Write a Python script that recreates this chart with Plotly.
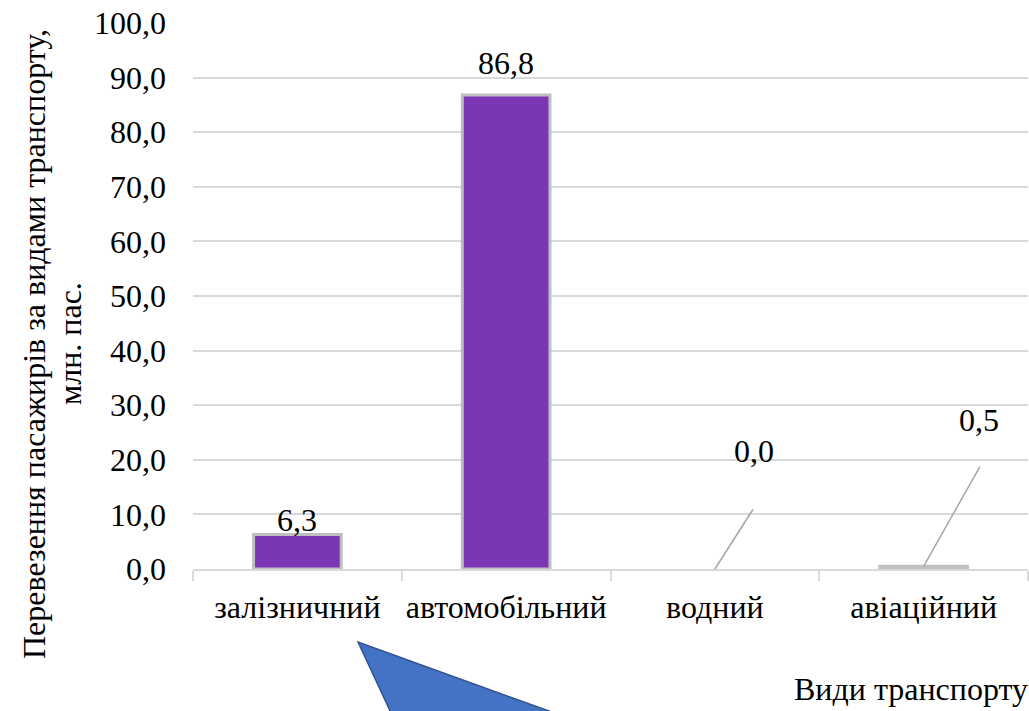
import plotly.graph_objects as go

categories = ["залізничний", "автомобільний", "водний", "авіаційний"]
values = [6.3, 86.8, 0.0, 0.5]
value_labels = ["6,3", "86,8", "0,0", "0,5"]
y_ticks = [0, 10, 20, 30, 40, 50, 60, 70, 80, 90, 100]
y_title_lines = ["Перевезення пасажирів за видами транспорту,", "млн. пас."]
x_title = "Види транспорту"

FONT = "Liberation Serif"
FS = 32
GRID = "#d9d9d9"

fig = go.Figure()
fig.add_trace(go.Bar(
    x=categories, y=values,
    marker=dict(color="#7A36B4",
                line=dict(color="#BFBFBF", width=[0 if v == 0 else 3 for v in values])),
    width=0.42,
    hoverinfo="x+y",
))

# direct labels for the two visible bars
label_shift = [-5, 12]
for i in (0, 1):
    fig.add_annotation(x=categories[i], y=values[i], text=value_labels[i],
                       showarrow=False, yanchor="bottom", yshift=label_shift[i],
                       font=dict(family=FONT, size=FS, color="black"))

# leader lines + labels for the tiny values
leaders = {2: (39, -61, 39, 98), 3: (57, -101, 55, 126)}
for i, (ax, ay, tx, ty) in leaders.items():
    fig.add_annotation(x=categories[i], y=values[i], text="", showarrow=True,
                       arrowhead=0, arrowwidth=1.5, arrowcolor="#a6a6a6",
                       ax=ax, ay=ay, axref="pixel", ayref="pixel")
    fig.add_annotation(x=categories[i], y=values[i], text=value_labels[i],
                       showarrow=False, xshift=tx, yshift=ty, yanchor="bottom",
                       font=dict(family=FONT, size=FS, color="black"))

# y axis title (two lines)
for line, xs in zip(y_title_lines, (-159, -123)):
    fig.add_annotation(xref="paper", yref="paper", x=0, y=0.5, xshift=xs, yshift=-48,
                       text=line, textangle=-90, showarrow=False,
                       xanchor="center", yanchor="middle",
                       font=dict(family=FONT, size=FS, color="black"))

# x axis title
fig.add_annotation(xref="paper", yref="paper", x=1, y=0, yshift=-120, xshift=2,
                   text=x_title, showarrow=False, xanchor="right", yanchor="middle",
                   font=dict(family=FONT, size=FS, color="black"))

# blue callout triangle
def px(xp, yp):
    return ((xp - 193) / 835, (569 - yp) / 546)

p1, p2, p3 = px(358, 642), px(392, 715), px(560, 715)
fig.add_shape(type="path", xref="paper", yref="paper",
              path=f"M {p1[0]} {p1[1]} L {p2[0]} {p2[1]} L {p3[0]} {p3[1]} Z",
              fillcolor="#4472C4", line=dict(color="#2F528F", width=1.5), layer="above")

fig.update_layout(
    width=1029, height=711,
    margin=dict(l=193, r=1, t=23, b=142, autoexpand=False),
    paper_bgcolor="white", plot_bgcolor="white",
    separators=", ",
    showlegend=False,
    font=dict(family=FONT, size=FS, color="black"),
    xaxis=dict(
        range=[-0.5, 3.5], showline=True, linecolor=GRID, linewidth=1.5,
        ticks="outside", tickson="boundaries", ticklen=10, tickcolor=GRID, tickwidth=1.5,
        showgrid=False, ticklabelstandoff=9, tickangle=0, automargin=False,
        tickfont=dict(family=FONT, size=FS, color="black"),
    ),
    yaxis=dict(
        range=[0, 100], tickvals=y_ticks, tickformat=".1f",
        showgrid=True, gridcolor=GRID, gridwidth=1.5, zeroline=False,
        showline=False, ticks="", ticklabelstandoff=26, automargin=False,
        tickfont=dict(family=FONT, size=FS, color="black"),
    ),
)

fig.write_html("out.html", config={"displayModeBar": False},
               post_script="document.body.style.margin='0';document.body.style.overflow='hidden';")
